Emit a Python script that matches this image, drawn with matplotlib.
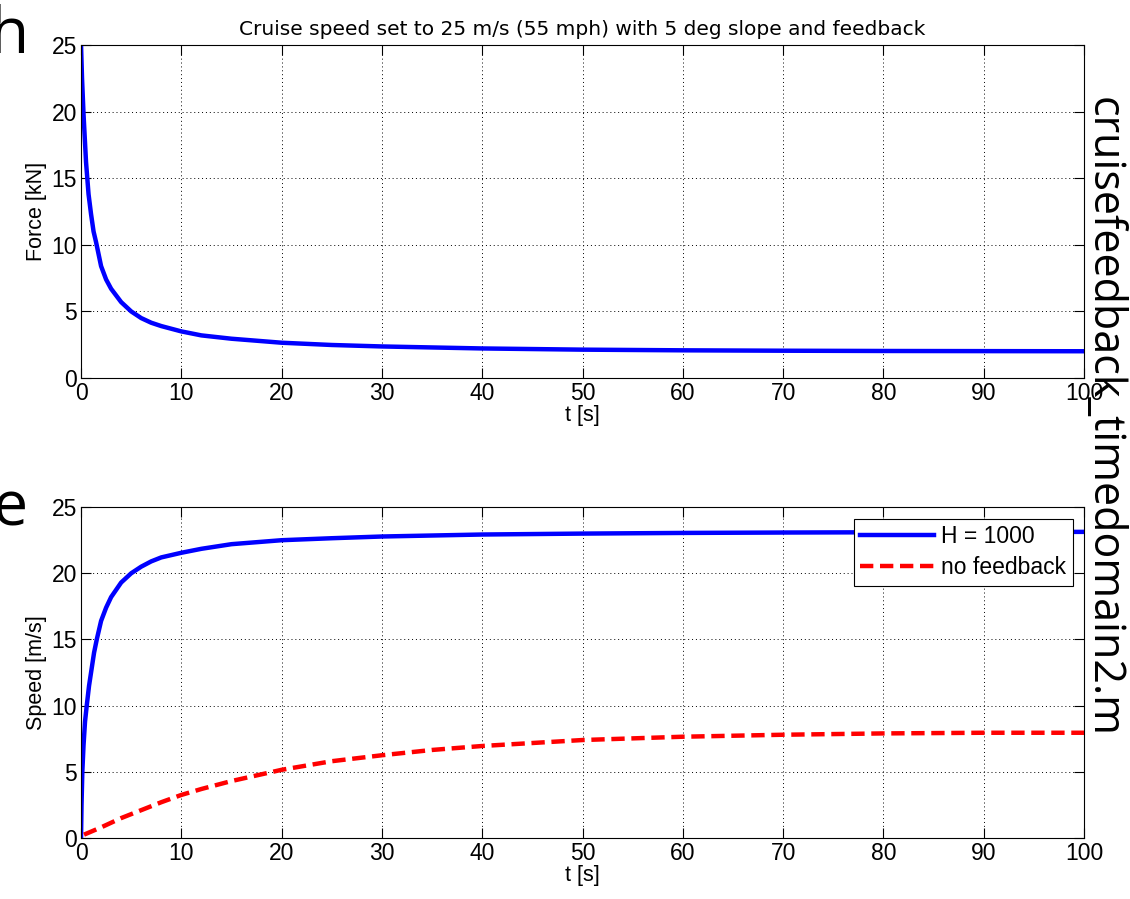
import matplotlib
matplotlib.use("Agg")
import matplotlib.pyplot as plt

# ===[ Data ]==================================================================
t_force = [0, 0.1, 0.25, 0.5, 0.75, 1, 1.25, 1.5, 2, 2.5, 3, 4, 5, 6, 7, 8,
           10, 12, 15, 20, 25, 30, 40, 50, 60, 70, 80, 90, 100]
force = [25, 22.5, 19.8, 16.2, 13.8, 12.3, 11.0, 10.2, 8.4, 7.4, 6.7, 5.7,
         5.0, 4.5, 4.15, 3.9, 3.5, 3.2, 2.95, 2.65, 2.48, 2.37, 2.22, 2.13,
         2.08, 2.05, 2.03, 2.02, 2.01]

t_fb = [0, 0.05, 0.13, 0.25, 0.4, 0.57, 0.8, 1.0, 1.3, 1.57, 2, 2.5, 3, 4,
        5, 6, 7, 8, 10, 12, 15, 20, 25, 30, 40, 50, 60, 70, 80, 90, 100]
speed_fb = [0, 2.5, 5, 7, 8.8, 10, 11.5, 12.5, 14, 15, 16.4, 17.4, 18.2,
            19.3, 20.0, 20.5, 20.9, 21.2, 21.55, 21.85, 22.2, 22.5, 22.65,
            22.78, 22.93, 23.0, 23.05, 23.08, 23.1, 23.12, 23.13]

t_nofb = [0.3, 2, 4, 5, 6, 8, 10, 12, 15, 20, 25, 30, 35, 40, 50, 60, 70, 80,
          90, 100]
speed_nofb = [0.25, 0.8, 1.5, 1.8, 2.1, 2.7, 3.25, 3.7, 4.3, 5.15, 5.8, 6.25,
              6.65, 6.95, 7.4, 7.65, 7.8, 7.9, 7.95, 7.95]

xticks = list(range(0, 101, 10))
yticks = [0, 5, 10, 15, 20, 25]

# ===[ Style ]=================================================================
plt.rcParams['font.family'] = ['Liberation Sans', 'DejaVu Sans']


def style_axes(ax, ylabel):
    ax.set_xlim(0, 100)
    ax.set_ylim(0, 25)
    ax.set_xticks(xticks)
    ax.set_yticks(yticks)
    ax.tick_params(direction='in', top=True, right=True, labelsize=16.5,
                   length=7, width=0.8, pad=3)
    ax.grid(True, color='black', linestyle=(0, (1, 3)), linewidth=0.7)
    ax.set_xlabel("t [s]", fontsize=15.5, labelpad=0)
    ax.set_ylabel(ylabel, fontsize=15.5, labelpad=3)
    for s in ax.spines.values():
        s.set_linewidth(0.8)


fig = plt.figure(figsize=(11.3, 8.99), dpi=100)
ax1 = fig.add_axes([0.0717, 0.5795, 0.8876, 0.3705])
ax2 = fig.add_axes([0.0717, 0.0679, 0.8876, 0.368])

# ===[ Force ]=================================================================
ax1.plot(t_force, force, color='blue', linewidth=3.2)
style_axes(ax1, "Force [kN]")
ax1.set_title("Cruise speed set to 25 m/s (55 mph) with 5 deg slope and "
              "feedback", fontsize=14.5, family='DejaVu Sans', pad=7)

# ===[ Speed ]=================================================================
ax2.plot(t_fb, speed_fb, color='blue', linewidth=3.2, label="H = 1000")
ax2.plot(t_nofb, speed_nofb, color='red', linewidth=3.2,
         linestyle=(0, (3, 1.5)), label="no feedback")
style_axes(ax2, "Speed [m/s]")
leg = ax2.legend(loc='upper right', fontsize=16.5, fancybox=False,
                 framealpha=1, edgecolor='black', borderaxespad=0.5,
                 handlelength=3.2, borderpad=0.3, labelspacing=0.35,
                 handletextpad=0.3)
leg.get_frame().set_linewidth(0.8)

# ===[ Overlay letters ]=======================================================
fig.text(-0.009, 0.995, "h", fontsize=46, family='Open Sans', va='top',
         ha='left')
fig.text(-0.007, 0.468, "e", fontsize=45, family='Open Sans', va='top',
         ha='left')
fig.text(0.976, 0.536, "cruisefeedback_timedomain2.m", fontsize=31,
         family='Open Sans', rotation=-90, va='center', ha='center')

fig.savefig("out.png", dpi=100)
